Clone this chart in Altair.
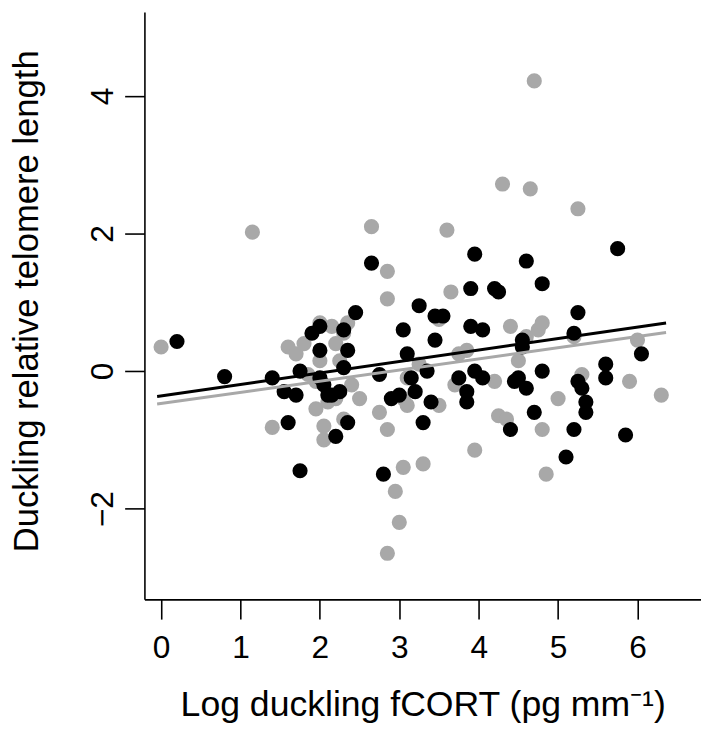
import altair as alt
import pandas as pd

# black points (x = log fCORT, y = relative telomere length)
black_x = [0.2, 0.8, 1.4, 1.55, 1.6, 1.7, 1.75, 1.75, 1.9, 2.0, 2.0, 2.0, 2.05, 2.1, 2.15, 2.2, 2.25, 2.3, 2.3, 2.35,
           2.35, 2.45, 2.65, 2.75, 2.8, 2.9, 3.05, 3.0, 3.1, 3.15, 3.2, 3.25, 3.3, 3.35, 3.4, 3.45, 3.45, 3.55, 3.75, 3.85,
           3.85, 3.9, 3.9, 3.95, 3.95, 4.05, 4.05, 4.2, 4.25, 4.4, 4.45, 4.5, 4.55, 4.55, 4.6, 4.6, 4.7, 4.8, 4.8, 5.1,
           5.2, 5.2, 5.25, 5.25, 5.3, 5.35, 5.35, 5.6, 5.6, 5.75, 5.85, 6.05]
black_y = [0.43, -0.08, -0.1, -0.3, -0.75, -0.35, -1.45, 0.0, 0.55, 0.65, 0.3, -0.1, -0.2, -0.35, -0.35, -0.95, -0.3, 0.05, 0.6, 0.3,
           -0.75, 0.85, 1.57, -0.05, -1.5, -0.4, 0.6, -0.35, 0.25, -0.1, -0.3, 0.95, -0.75, 0.0, -0.45, 0.45, 0.8, 0.8, -0.1, -0.3,
           -0.45, 0.65, 1.2, 1.7, 0.0, -0.1, 0.6, 1.2, 1.15, -0.85, -0.15, -0.1, 0.45, 0.35, 1.6, -0.25, -0.6, 0.0, 1.27, -1.25,
           -0.85, 0.55, -0.15, 0.85, -0.25, -0.45, -0.6, 0.1, -0.1, 1.78, -0.93, 0.25]

# grey points
grey_x = [0.0, 1.15, 1.4, 1.6, 1.7, 1.8, 1.85, 1.95, 1.95, 2.0, 2.05, 2.05, 2.1, 2.15, 2.2, 2.2, 2.25, 2.3, 2.35, 2.4,
          2.5, 2.65, 2.75, 2.85, 2.85, 2.85, 2.85, 2.95, 3.0, 3.05, 3.05, 3.1, 3.25, 3.3, 3.5, 3.6, 3.65, 3.7, 3.75, 3.85,
          3.95, 4.2, 4.25, 4.3, 4.35, 4.4, 4.5, 4.6, 4.65, 4.7, 4.75, 4.8, 4.85, 5.0, 5.2, 5.25, 5.3, 5.9, 6.0, 6.3,
          4.8, 3.5, 3.1, 2.3, 2.0]
grey_y = [0.35, 2.02, -0.82, 0.35, 0.25, 0.4, -0.05, -0.55, -0.15, 0.7, -0.8, -1.0, -0.45, 0.65, 0.4, -0.4, 0.15, -0.7, 0.7, -0.2,
          -0.4, 2.1, -0.6, 1.45, 1.05, -0.85, -2.65, -1.75, -2.2, -1.4, -0.4, -0.1, 0.1, -1.35, 0.75, 2.05, 1.15, -0.2, 0.25, 0.3,
          -1.15, -0.15, -0.65, 2.72, -0.7, 0.65, 0.15, 0.5, 2.65, 4.22, 0.6, -0.85, -1.5, -0.4, 0.5, 2.36, -0.05, -0.15, 0.45, -0.35,
          0.7, -0.5, -0.5, 0.55, 0.15]

# fitted lines (end points)
line_x = [-0.05, 6.36]
black_line_y = [-0.37, 0.70]
grey_line_y = [-0.48, 0.56]

black_df = pd.DataFrame({"x": black_x, "y": black_y})
grey_df = pd.DataFrame({"x": grey_x, "y": grey_y})
bline_df = pd.DataFrame({"x": line_x, "y": black_line_y})
gline_df = pd.DataFrame({"x": line_x, "y": grey_line_y})

FONT = "Liberation Sans"
xscale = alt.Scale(domain=[-0.21, 6.80], nice=False, zero=False)
yscale = alt.Scale(domain=[-3.32, 5.22], nice=False, zero=False)

xaxis = alt.Axis(values=[0, 1, 2, 3, 4, 5, 6], format="d", title="Log duckling fCORT (pg mm\u207b\u00b9)",
                 grid=False, tickSize=20, labelPadding=14, titleY=118, titleBaseline="alphabetic",
                 titleFontSize=36)
yaxis = alt.Axis(values=[-2, 0, 2, 4], format="d", title="Duckling relative telomere length",
                 grid=False, tickSize=20, labelPadding=5, labelAngle=270, labelAlign="center",
                 labelBaseline="bottom", titleX=-108, titleY=292, titleBaseline="alphabetic")

grey_pts = alt.Chart(grey_df).mark_circle(size=235, opacity=1, color="#a8a8a8").encode(
    x=alt.X("x:Q", scale=xscale, axis=xaxis),
    y=alt.Y("y:Q", scale=yscale, axis=yaxis),
)
black_pts = alt.Chart(black_df).mark_circle(size=235, opacity=1, color="#000000").encode(
    x=alt.X("x:Q", scale=xscale), y=alt.Y("y:Q", scale=yscale))
grey_line = alt.Chart(gline_df).mark_line(color="#a8a8a8", strokeWidth=3).encode(
    x=alt.X("x:Q", scale=xscale), y=alt.Y("y:Q", scale=yscale))
black_line = alt.Chart(bline_df).mark_line(color="#000000", strokeWidth=3).encode(
    x=alt.X("x:Q", scale=xscale), y=alt.Y("y:Q", scale=yscale))

chart = alt.layer(grey_pts, black_pts, grey_line, black_line).properties(
    width=563, height=594,
    autosize=alt.AutoSizeParams(type="none"),
    padding={"left": 138, "top": 0, "right": 0, "bottom": 128},
).configure_view(stroke=None).configure_axis(
    domainColor="black", domainWidth=1.6, tickColor="black", tickWidth=1.6,
    labelFont=FONT, labelFontSize=32, labelColor="black",
    titleFont=FONT, titleFontSize=35, titleFontWeight="normal", titleColor="black",
)

chart.save("out.html", embed_options={"renderer": "svg", "actions": False})
